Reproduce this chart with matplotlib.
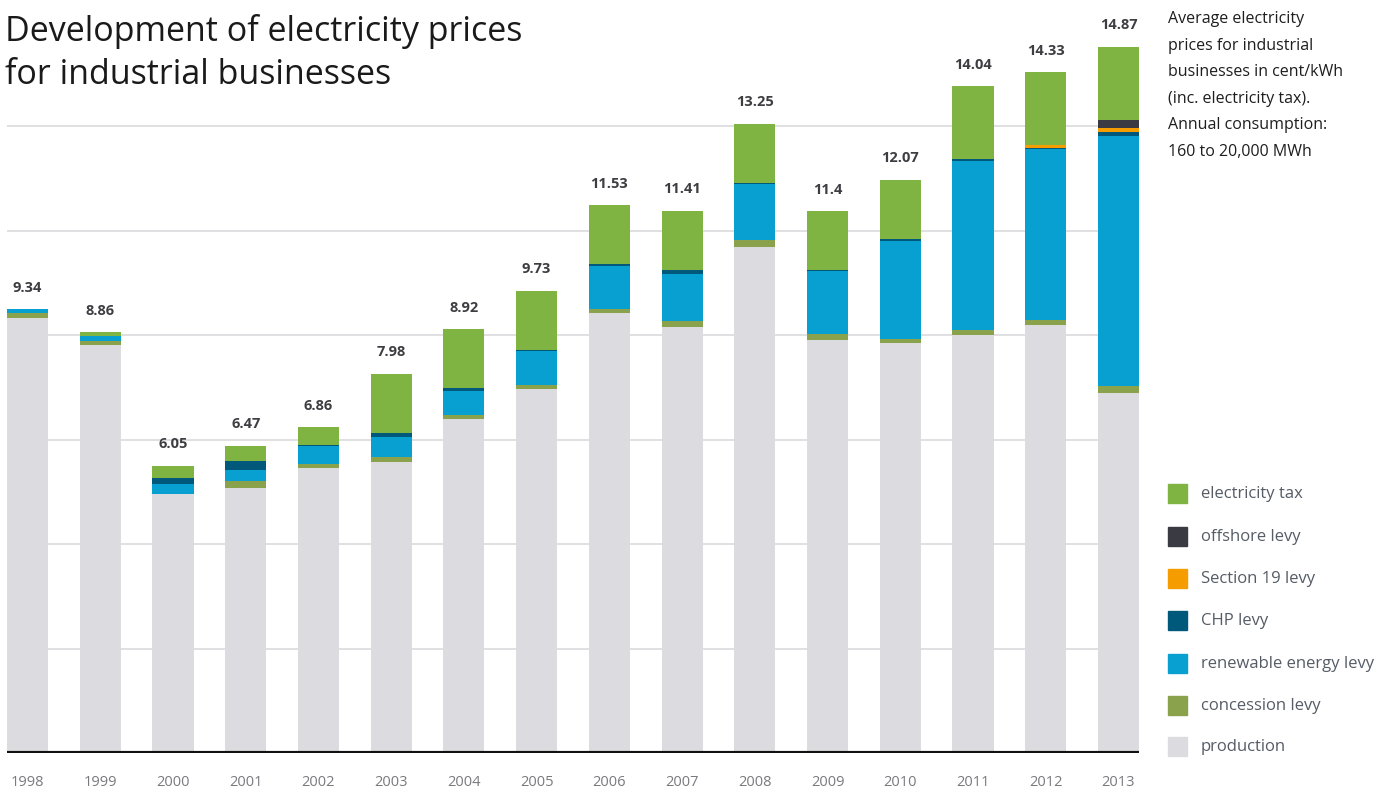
import matplotlib
matplotlib.use("Agg")
import matplotlib.pyplot as plt
from matplotlib.patches import Rectangle
import numpy as np

plt.rcParams['font.family'] = ['Open Sans', 'DejaVu Sans']

years = ['1998', '1999', '2000', '2001', '2002', '2003', '2004', '2005',
         '2006', '2007', '2008', '2009', '2010', '2011', '2012', '2013']
totals = [9.34, 8.86, 6.05, 6.47, 6.86, 7.98, 8.92, 9.73,
          11.53, 11.41, 13.25, 11.4, 12.07, 14.04, 14.33, 14.87]

production = [9.15, 8.58, 5.46, 5.58, 6.00, 6.13, 7.03, 7.66,
              9.27, 8.97, 10.66, 8.70, 8.63, 8.80, 9.01, 7.57]
concession = [0.11, 0.10, 0.00, 0.15, 0.08, 0.11, 0.08, 0.08,
              0.08, 0.13, 0.15, 0.13, 0.08, 0.10, 0.10, 0.15]
renewable = [0.08, 0.09, 0.21, 0.23, 0.38, 0.42, 0.51, 0.72,
             0.90, 0.99, 1.16, 1.31, 2.06, 3.56, 3.60, 5.28]
chp = [0.00, 0.00, 0.13, 0.19, 0.03, 0.08, 0.06, 0.03,
       0.04, 0.08, 0.04, 0.02, 0.06, 0.04, 0.02, 0.08]
section19 = [0, 0, 0, 0, 0, 0, 0, 0, 0, 0, 0, 0, 0, 0, 0.06, 0.08]
offshore = [0, 0, 0, 0, 0, 0, 0, 0, 0, 0, 0, 0, 0, 0, 0, 0.17]
electricity_tax = [0.00, 0.09, 0.25, 0.32, 0.37, 1.24, 1.24, 1.24,
                   1.24, 1.24, 1.24, 1.24, 1.24, 1.54, 1.54, 1.54]

series = [
    ('production', production, '#dcdce0'),
    ('concession levy', concession, '#8ba24c'),
    ('renewable energy levy', renewable, '#08a0d0'),
    ('CHP levy', chp, '#00587a'),
    ('Section 19 levy', section19, '#f59c00'),
    ('offshore levy', offshore, '#3a3a42'),
    ('electricity tax', electricity_tax, '#7fb342'),
]

W, H = 1384, 792
fig = plt.figure(figsize=(W / 100, H / 100), dpi=100)

ax_left, ax_right = 7, 1139
base_y = 753
ax = fig.add_axes([ax_left / W, (H - base_y) / H, (ax_right - ax_left) / W, base_y / H])
ax.set_axis_off()

bw = 0.565
x = np.arange(len(years))
ymax = base_y / 47.5
ax.set_xlim(-bw / 2, len(years) - 1 + bw / 2)
ax.set_ylim(0, ymax)

# gridlines
for k in range(1, 7):
    ax.axhline(2.2 * k, color='#e0e0e3', lw=1.4, zorder=0)

bottom = np.zeros(len(years))
for name, vals, col in series:
    v = np.array(vals, dtype=float)
    ax.bar(x, v, bw, bottom=bottom, color=col, linewidth=0, zorder=2)
    bottom += v

ax.axhline(0, color='#111111', lw=3, zorder=3)

for xi, t in zip(x, totals):
    ax.annotate(f'{t:g}', (xi, t), xytext=(0, 10.5), textcoords='offset points',
                ha='center', va='bottom', fontsize=10.5, fontweight='bold',
                color='#3d3d42')

for xi, yr in zip(x, years):
    ax.annotate(yr, (xi, 0), xytext=(0, -21.5), textcoords='offset points',
                ha='center', va='center', fontsize=10.5, color='#7a7a7e',
                annotation_clip=False)

# title
fig.text(5 / W, 1 - 14 / H, 'Development of electricity prices\nfor industrial businesses',
         ha='left', va='top', fontsize=24.5, color='#1a1a1a', linespacing=1.36)

# side note
fig.text(1168 / W, 1 - 11 / H,
         'Average electricity\nprices for industrial\nbusinesses in cent/kWh\n(inc. electricity tax).\nAnnual consumption:\n160 to 20,000 MWh',
         ha='left', va='top', fontsize=11.5, color='#1e1e1e', linespacing=1.88)

# legend
legend_items = list(reversed(series))
leg_y = [493, 536, 578, 620, 663, 705, 746]
for (name, vals, col), yy in zip(legend_items, leg_y):
    fig.patches.append(Rectangle((1168 / W, 1 - (yy + 10) / H), 19 / W, 19 / H,
                                 transform=fig.transFigure, color=col, figure=fig))
    fig.text(1201 / W, 1 - (yy + 1) / H, name, ha='left', va='center', fontsize=12,
             color='#555c66')

fig.savefig('out.png', dpi=100)
